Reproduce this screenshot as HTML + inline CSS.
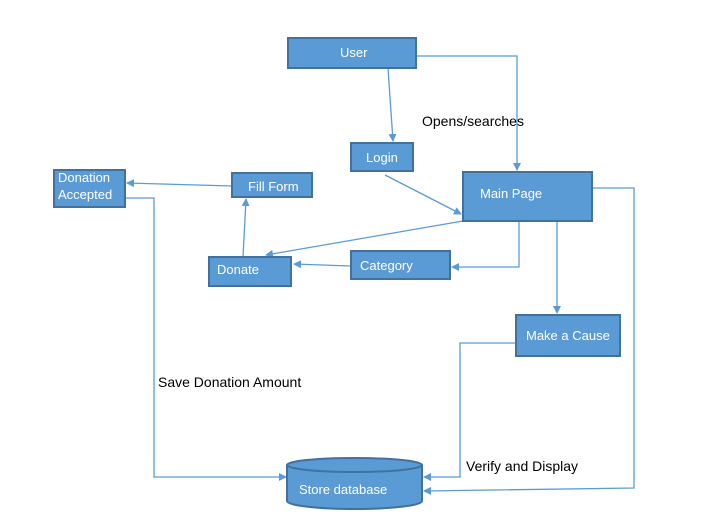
<!DOCTYPE html>
<html><head><meta charset="utf-8"><style>
html,body{margin:0;padding:0;background:#fff;}
svg{display:block;}
text{font-family:"Liberation Sans",sans-serif;font-size:13px;}
.t{font-size:14px;}
.b{fill:#5b9bd5;stroke:#41719c;stroke-width:2;}
.l{fill:none;stroke:#5b9bd5;stroke-width:1.3;}
.w{fill:#fff;}
</style></head><body>
<svg width="702" height="519" viewBox="0 0 702 519" xmlns="http://www.w3.org/2000/svg">
<defs><marker id="a" markerWidth="8" markerHeight="8" refX="7" refY="4" orient="auto" markerUnits="userSpaceOnUse"><path d="M0,0 L8,4 L0,8 z" fill="#5b9bd5"/></marker></defs>
<path class="l" d="M388,68 L393,141" marker-end="url(#a)"/>
<path class="l" d="M416,56 L517,56 L517,170" marker-end="url(#a)"/>
<path class="l" d="M385,175 L461,214" marker-end="url(#a)"/>
<path class="l" d="M463,221 L266,255" marker-end="url(#a)"/>
<path class="l" d="M519,221 L519,267 L452,267" marker-end="url(#a)"/>
<path class="l" d="M350,266 L294,264" marker-end="url(#a)"/>
<path class="l" d="M243,257 L246,199" marker-end="url(#a)"/>
<path class="l" d="M232,186 L127,183" marker-end="url(#a)"/>
<path class="l" d="M125,198 L154,198 L154,477 L286,477" marker-end="url(#a)"/>
<path class="l" d="M557,221 L557,313" marker-end="url(#a)"/>
<path class="l" d="M516,343 L460,343 L460,477 L424,477" marker-end="url(#a)"/>
<path class="l" d="M592,188 L634,188 L634,488 L424,491" marker-end="url(#a)"/>
<rect class="b" x="288" y="38" width="128" height="30"/><text class="w" x="340" y="57">User</text>
<rect class="b" x="351" y="143" width="62" height="28"/><text class="w" x="366" y="162">Login</text>
<rect class="b" x="463" y="172" width="129" height="49"/><text class="w" x="480" y="198">Main Page</text>
<rect class="b" x="232" y="173" width="80" height="24"/><text class="w" x="248" y="191">Fill Form</text>
<rect class="b" x="54" y="170" width="71" height="37"/><text class="w" x="58" y="182">Donation</text><text class="w" x="58" y="199">Accepted</text>
<rect class="b" x="209" y="257" width="82" height="29"/><text class="w" x="217" y="274">Donate</text>
<rect class="b" x="351" y="251" width="99" height="28"/><text class="w" x="360" y="270">Category</text>
<rect class="b" x="516" y="315" width="104" height="41"/><text class="w" x="526" y="340">Make a Cause</text>
<path class="b" d="M287,465 L287,501 A67.5,8 0 0 0 422,501 L422,465"/>
<ellipse class="b" cx="354.5" cy="465" rx="67.5" ry="7"/>
<text class="w" x="299" y="494">Store database</text>
<text class="t" x="422" y="126" fill="#000">Opens/searches</text>
<text class="t" x="158" y="387" fill="#000">Save Donation Amount</text>
<text class="t" x="466" y="471" fill="#000">Verify and Display</text>
</svg>
</body></html>
